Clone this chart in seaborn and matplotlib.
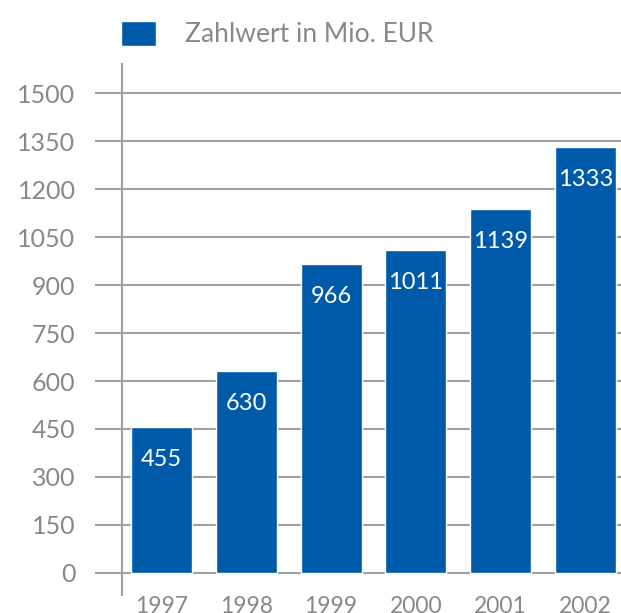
import matplotlib
matplotlib.use("Agg")
import matplotlib.pyplot as plt
import pandas as pd
import seaborn as sns

years = ["1997", "1998", "1999", "2000", "2001", "2002"]
values = [455, 630, 966, 1011, 1139, 1333]
y_ticks = [0, 150, 300, 450, 600, 750, 900, 1050, 1200, 1350, 1500]
series_name = "Zahlwert in Mio. EUR"

BLUE = "#005aaa"
GRID = "#a0a0a0"
TEXT = "#888888"

sns.set_style("white")
plt.rcParams["font.family"] = ["Lato", "DejaVu Sans"]

df = pd.DataFrame({"Jahr": years, "Wert": values})

fig = plt.figure(figsize=(6.21, 6.13), dpi=100)
ax = fig.add_axes([95 / 621, 17 / 613, 526 / 621, 533 / 613])

sns.barplot(data=df, x="Jahr", y="Wert", color=BLUE, width=0.72,
            saturation=1, label=series_name, ax=ax, zorder=3)

ax.set_xlim(-0.784, 5.42)
ax.set_ylim(-72, 1594)
ax.set_yticks(y_ticks)
ax.yaxis.grid(True, color=GRID, linewidth=1.5, zorder=0)
ax.set_axisbelow(True)
ax.axvline(-0.466, color=GRID, linewidth=1.5, zorder=1)

for side in ["left", "right", "top", "bottom"]:
    ax.spines[side].set_visible(False)

ax.set_xlabel("")
ax.set_ylabel("")
ax.tick_params(axis="y", length=0, pad=14, labelsize=18, labelcolor=TEXT)
ax.tick_params(axis="x", length=0, pad=0, labelsize=16.5, labelcolor=TEXT)

ax.bar_label(ax.containers[0], labels=[str(v) for v in values],
             padding=-31, color="white", fontsize=17)

ax.legend(loc="upper left", bbox_to_anchor=(121 / 621, 1 - 21 / 613),
          bbox_transform=fig.transFigure, frameon=False, fontsize=19,
          labelcolor=TEXT, handlelength=1.33, handleheight=1.06,
          handletextpad=1.1, borderpad=0, borderaxespad=0)

fig.savefig("out.png", dpi=100)
